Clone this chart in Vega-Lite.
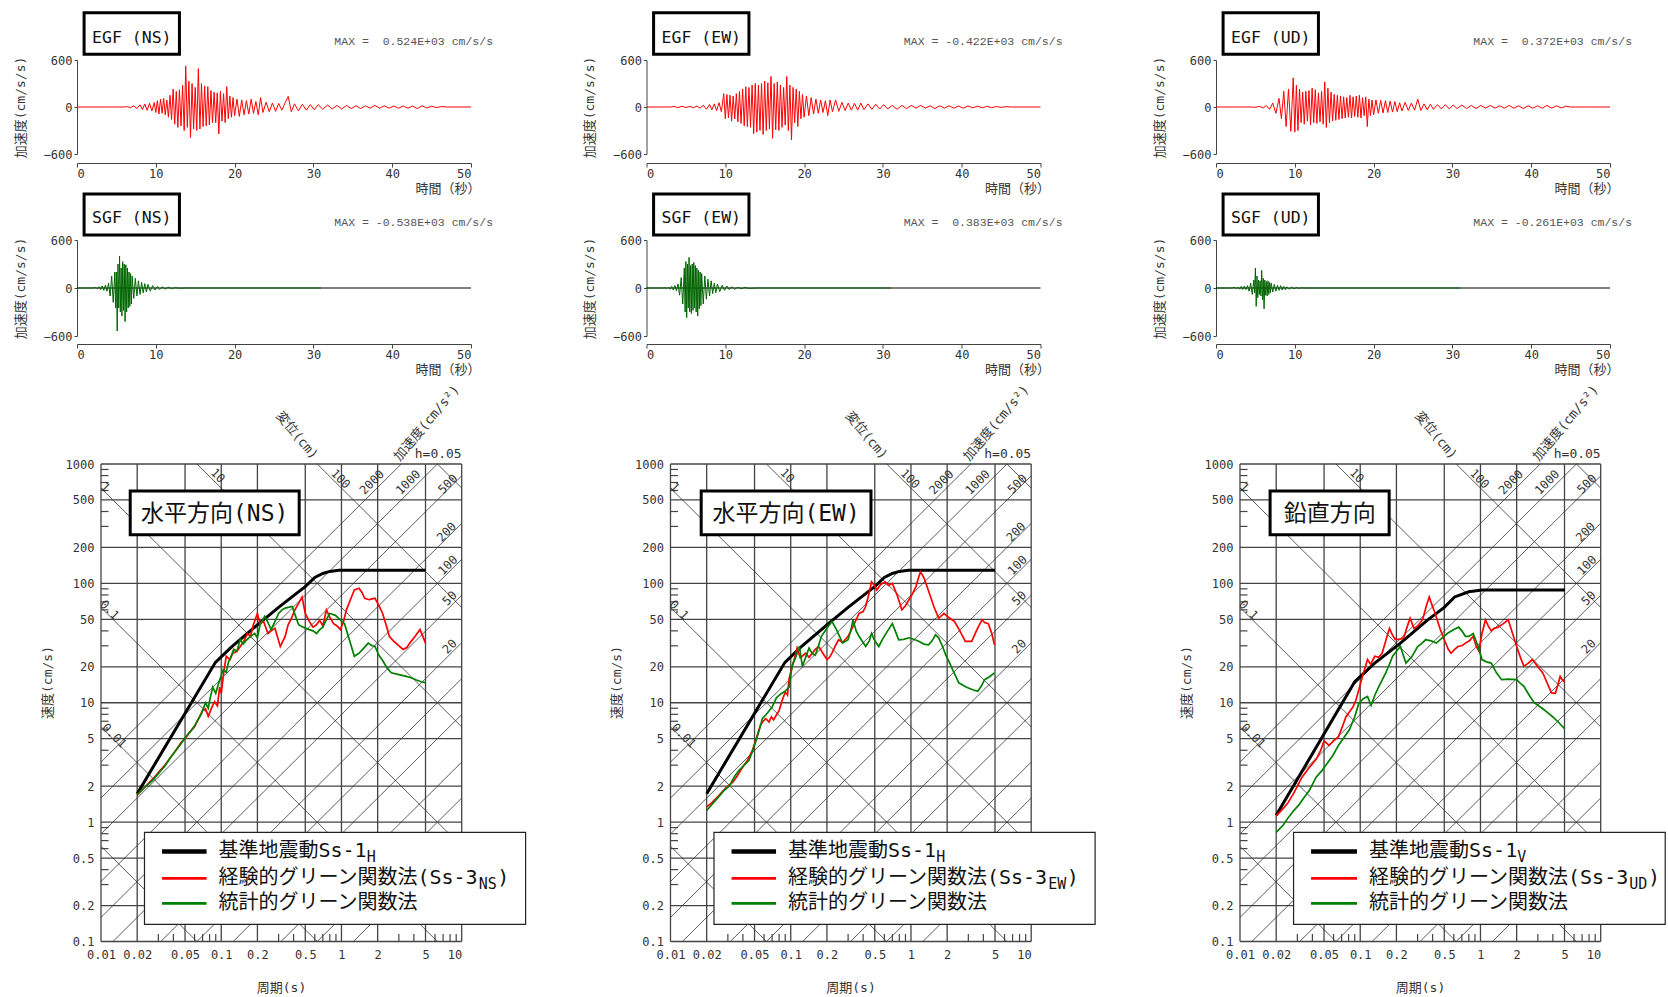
{
"$schema":"https://vega.github.io/schema/vega-lite/v6.json",
"background":"white",
"padding":{"left":14,"top":11,"right":0,"bottom":0},
"config":{
 "view":{"stroke":null},
 "axis":{"grid":false,"labelFont":"DejaVu Sans Mono","labelFontSize":12,"labelColor":"#333","labelOverlap":false,"titleFont":"DejaVu Sans Mono, Noto Sans CJK JP","titleFontSize":13,"titleFontWeight":"normal","titleColor":"#333","domainColor":"#444","tickColor":"#444"},
 "text":{"font":"DejaVu Sans Mono, Noto Sans CJK JP"}
},
"datasets":{
 "egf":[
{"t":0,"n":0,"e":0,"u":0},{"t":3,"n":0,"e":0,"u":0},{"t":3.5,"n":0,"e":6,"u":0},{"t":4,"n":0,"e":-7,"u":0},{"t":4.5,"n":0,"e":8,"u":0},{"t":5,"n":0,"e":-6,"u":-4},{"t":5.5,"n":0,"e":7,"u":8},{"t":6,"n":0,"e":-9,"u":-12},{"t":6.4,"n":4,"e":12,"u":18},{"t":6.8,"n":-8,"e":-15,"u":-30},{"t":7.2,"n":15,"e":22,"u":50},{"t":7.6,"n":-20,"e":-28,"u":-80},{"t":8,"n":28,"e":32,"u":110},{"t":8.3,"n":-32,"e":-36,"u":-150},{"t":8.6,"n":38,"e":40,"u":200},{"t":8.9,"n":-42,"e":-45,"u":-250},{"t":9.2,"n":48,"e":55,"u":230},{"t":9.5,"n":-52,"e":-60,"u":-310},{"t":9.8,"n":58,"e":170,"u":372},{"t":10,"n":-70,"e":-150,"u":-320},{"t":10.2,"n":80,"e":160,"u":280},{"t":10.4,"n":-90,"e":-140,"u":-300},{"t":10.6,"n":100,"e":150,"u":230},{"t":10.8,"n":-80,"e":-180,"u":-200},{"t":11,"n":110,"e":140,"u":190},{"t":11.2,"n":-100,"e":-150,"u":-220},{"t":11.4,"n":90,"e":170,"u":200},{"t":11.6,"n":-130,"e":-190,"u":-180},{"t":11.8,"n":150,"e":200,"u":210},{"t":12,"n":-160,"e":-210,"u":-230},{"t":12.2,"n":230,"e":230,"u":240},{"t":12.4,"n":-220,"e":-240,"u":-200},{"t":12.6,"n":200,"e":260,"u":220},{"t":12.8,"n":-260,"e":-250,"u":-210},{"t":13,"n":220,"e":250,"u":180},{"t":13.2,"n":-240,"e":-260,"u":-190},{"t":13.4,"n":280,"e":280,"u":200},{"t":13.6,"n":-300,"e":-340,"u":-220},{"t":13.8,"n":524,"e":300,"u":320},{"t":14,"n":-260,"e":-320,"u":-260},{"t":14.2,"n":330,"e":280,"u":240},{"t":14.4,"n":-390,"e":-300,"u":-200},{"t":14.6,"n":300,"e":300,"u":190},{"t":14.8,"n":-280,"e":-350,"u":-180},{"t":15,"n":250,"e":330,"u":160},{"t":15.2,"n":-300,"e":-300,"u":-170},{"t":15.4,"n":490,"e":310,"u":150},{"t":15.6,"n":-280,"e":-280,"u":-160},{"t":15.8,"n":300,"e":390,"u":140},{"t":16,"n":-250,"e":-400,"u":-150},{"t":16.2,"n":270,"e":300,"u":130},{"t":16.4,"n":-240,"e":-290,"u":-140},{"t":16.6,"n":260,"e":320,"u":120},{"t":16.8,"n":-230,"e":-300,"u":-130},{"t":17,"n":210,"e":280,"u":150},{"t":17.2,"n":-200,"e":-260,"u":-140},{"t":17.4,"n":190,"e":250,"u":130},{"t":17.6,"n":-200,"e":-230,"u":-120},{"t":17.8,"n":180,"e":390,"u":140},{"t":18,"n":-343,"e":-300,"u":-130},{"t":18.2,"n":200,"e":280,"u":150},{"t":18.4,"n":-180,"e":-422,"u":-140},{"t":18.6,"n":170,"e":250,"u":120},{"t":18.8,"n":-200,"e":-200,"u":-110},{"t":19,"n":260,"e":230,"u":130},{"t":19.2,"n":-150,"e":-250,"u":-250},{"t":19.4,"n":140,"e":200,"u":100},{"t":19.6,"n":-130,"e":-150,"u":-110},{"t":19.8,"n":120,"e":160,"u":90},{"t":20,"n":-110,"e":-130,"u":-100},{"t":20.3,"n":100,"e":140,"u":90},{"t":20.6,"n":-120,"e":-110,"u":-80},{"t":20.9,"n":90,"e":120,"u":85},{"t":21.2,"n":-100,"e":-90,"u":-75},{"t":21.5,"n":80,"e":100,"u":80},{"t":21.8,"n":-90,"e":-80,"u":-70},{"t":22.1,"n":100,"e":90,"u":75},{"t":22.4,"n":-80,"e":-70,"u":-65},{"t":22.7,"n":70,"e":80,"u":70},{"t":23,"n":-100,"e":-110,"u":-60},{"t":23.3,"n":120,"e":90,"u":55},{"t":23.6,"n":-70,"e":-60,"u":-50},{"t":24,"n":60,"e":90,"u":60},{"t":24.4,"n":-60,"e":-55,"u":-45},{"t":24.8,"n":50,"e":60,"u":50},{"t":25.2,"n":-55,"e":-45,"u":-40},{"t":25.6,"n":45,"e":50,"u":100},{"t":26,"n":-40,"e":-40,"u":-45},{"t":26.4,"n":50,"e":45,"u":40},{"t":26.8,"n":135,"e":-40,"u":-35},{"t":27.2,"n":-60,"e":50,"u":35},{"t":27.6,"n":40,"e":-35,"u":-30},{"t":28.1,"n":-50,"e":40,"u":30},{"t":28.6,"n":35,"e":-30,"u":-25},{"t":29.1,"n":-40,"e":35,"u":30},{"t":29.6,"n":30,"e":-25,"u":-25},{"t":30.1,"n":-35,"e":30,"u":25},{"t":30.6,"n":30,"e":-25,"u":-20},{"t":31.2,"n":-30,"e":20,"u":25},{"t":31.8,"n":25,"e":-30,"u":-20},{"t":32.4,"n":-25,"e":20,"u":20},{"t":33,"n":20,"e":-20,"u":-20},{"t":33.6,"n":-25,"e":20,"u":20},{"t":34.2,"n":20,"e":-15,"u":-15},{"t":34.8,"n":-20,"e":20,"u":20},{"t":35.4,"n":15,"e":-15,"u":-15},{"t":36,"n":-20,"e":15,"u":15},{"t":36.6,"n":15,"e":-20,"u":-15},{"t":37.2,"n":-15,"e":15,"u":20},{"t":37.8,"n":20,"e":-15,"u":-15},{"t":38.4,"n":-15,"e":15,"u":15},{"t":39,"n":15,"e":-15,"u":-20},{"t":39.6,"n":-15,"e":12,"u":15},{"t":40.2,"n":12,"e":-15,"u":-15},{"t":40.8,"n":-15,"e":12,"u":15},{"t":41.4,"n":12,"e":-10,"u":-15},{"t":42,"n":-15,"e":10,"u":20},{"t":42.6,"n":12,"e":-10,"u":-15},{"t":43.2,"n":-20,"e":8,"u":15},{"t":43.8,"n":15,"e":-8,"u":-12},{"t":44.4,"n":-12,"e":6,"u":10},{"t":45,"n":10,"e":-5,"u":0},{"t":45.6,"n":-8,"e":4,"u":0},{"t":46.3,"n":5,"e":0,"u":0},{"t":47,"n":0,"e":0,"u":0},{"t":50,"n":0,"e":0,"u":0}
 ],
 "sgf":[
{"t":0,"n":0,"e":0,"u":0},{"t":2,"n":0,"e":0,"u":0},{"t":2.4,"n":5,"e":3,"u":8},{"t":2.6,"n":-10,"e":-8,"u":-10},{"t":2.8,"n":15,"e":12,"u":12},{"t":3,"n":-20,"e":-15,"u":-15},{"t":3.2,"n":25,"e":20,"u":20},{"t":3.4,"n":-30,"e":-25,"u":-18},{"t":3.6,"n":35,"e":30,"u":25},{"t":3.8,"n":-40,"e":-35,"u":-20},{"t":4,"n":60,"e":50,"u":30},{"t":4.2,"n":-100,"e":-90,"u":-40},{"t":4.4,"n":150,"e":130,"u":60},{"t":4.6,"n":-180,"e":-200,"u":-80},{"t":4.8,"n":200,"e":250,"u":100},{"t":4.9,"n":-250,"e":-300,"u":-60},{"t":5,"n":200,"e":330,"u":250},{"t":5.1,"n":-538,"e":-370,"u":-230},{"t":5.2,"n":300,"e":300,"u":150},{"t":5.3,"n":-250,"e":-250,"u":-120},{"t":5.4,"n":400,"e":383,"u":100},{"t":5.5,"n":-300,"e":-300,"u":-80},{"t":5.6,"n":250,"e":280,"u":90},{"t":5.7,"n":-350,"e":-320,"u":-100},{"t":5.8,"n":330,"e":300,"u":220},{"t":5.9,"n":-280,"e":-280,"u":-150},{"t":6,"n":300,"e":320,"u":120},{"t":6.1,"n":-420,"e":-250,"u":-261},{"t":6.2,"n":290,"e":280,"u":100},{"t":6.3,"n":-300,"e":-300,"u":-90},{"t":6.4,"n":250,"e":250,"u":80},{"t":6.5,"n":-250,"e":-350,"u":-100},{"t":6.6,"n":200,"e":220,"u":90},{"t":6.7,"n":-230,"e":-260,"u":-80},{"t":6.8,"n":180,"e":200,"u":70},{"t":6.9,"n":-200,"e":-220,"u":-60},{"t":7,"n":150,"e":180,"u":60},{"t":7.2,"n":-130,"e":-200,"u":-50},{"t":7.4,"n":120,"e":150,"u":45},{"t":7.6,"n":-100,"e":-140,"u":-40},{"t":7.8,"n":90,"e":110,"u":35},{"t":8,"n":-80,"e":-100,"u":-30},{"t":8.2,"n":70,"e":90,"u":30},{"t":8.4,"n":-60,"e":-70,"u":-25},{"t":8.6,"n":55,"e":60,"u":20},{"t":8.8,"n":-50,"e":-60,"u":-20},{"t":9,"n":45,"e":50,"u":15},{"t":9.3,"n":-40,"e":-45,"u":-15},{"t":9.6,"n":30,"e":35,"u":12},{"t":9.9,"n":-25,"e":-30,"u":-10},{"t":10.2,"n":20,"e":25,"u":8},{"t":10.5,"n":-18,"e":-20,"u":-5},{"t":10.8,"n":15,"e":15,"u":3},{"t":11.2,"n":-12,"e":-15,"u":0},{"t":11.6,"n":10,"e":10,"u":0},{"t":12,"n":-8,"e":-8,"u":0},{"t":12.5,"n":5,"e":6,"u":0},{"t":13,"n":-3,"e":-5,"u":0},{"t":14,"n":0,"e":0,"u":0},{"t":31,"n":0,"e":0,"u":0}
 ],
 "vg":[{"T":0.01},{"T":0.02},{"T":0.05},{"T":0.1},{"T":0.2},{"T":0.5},{"T":1},{"T":2},{"T":5},{"T":10}],
 "hg":[{"V":0.1},{"V":0.2},{"V":0.5},{"V":1},{"V":2},{"V":5},{"V":10},{"V":20},{"V":50},{"V":100},{"V":200},{"V":500},{"V":1000}],
 "dg":[
{"t1":0.01,"v1":0.6283,"t2":0.06283,"v2":0.1},{"t1":0.01,"v1":6.283,"t2":0.6283,"v2":0.1},{"t1":0.01,"v1":62.83,"t2":6.283,"v2":0.1},{"t1":0.01,"v1":628.3,"t2":10,"v2":0.6283},{"t1":0.06283,"v1":1000,"t2":10,"v2":6.283},{"t1":0.6283,"v1":1000,"t2":10,"v2":62.83},{"t1":6.283,"v1":1000,"t2":10,"v2":628.3},
{"t1":1.2566,"v1":0.1,"t2":10,"v2":0.7958},{"t1":0.6283,"v1":0.1,"t2":10,"v2":1.5915},{"t1":0.31416,"v1":0.1,"t2":10,"v2":3.183},{"t1":0.12566,"v1":0.1,"t2":10,"v2":7.958},{"t1":0.06283,"v1":0.1,"t2":10,"v2":15.915},{"t1":0.031416,"v1":0.1,"t2":10,"v2":31.83},{"t1":0.012566,"v1":0.1,"t2":10,"v2":79.58},{"t1":0.01,"v1":0.15915,"t2":10,"v2":159.15},{"t1":0.01,"v1":0.3183,"t2":10,"v2":318.3},{"t1":0.01,"v1":0.7958,"t2":10,"v2":795.8},{"t1":0.01,"v1":1.5915,"t2":6.283,"v2":1000},{"t1":0.01,"v1":3.183,"t2":3.1416,"v2":1000}
 ],
 "lt":[{"V":0.3},{"V":0.4},{"V":0.6},{"V":0.7},{"V":0.8},{"V":0.9},{"V":3},{"V":4},{"V":6},{"V":7},{"V":8},{"V":9},{"V":30},{"V":40},{"V":60},{"V":70},{"V":80},{"V":90},{"V":300},{"V":400},{"V":600},{"V":700},{"V":800},{"V":900}],
 "bt":[{"T":0.03},{"T":0.04},{"T":0.06},{"T":0.07},{"T":0.08},{"T":0.09},{"T":0.3},{"T":0.4},{"T":0.6},{"T":0.7},{"T":0.8},{"T":0.9},{"T":3},{"T":4},{"T":6},{"T":7},{"T":8},{"T":9}],
 "dl":[{"T":0.0938,"V":800,"l":"10"},{"T":0.984,"V":750,"l":"100"},{"T":0.0109,"V":639,"l":"1"},{"T":0.0118,"V":60,"l":"0.1"},{"T":0.0129,"V":5.3,"l":"0.01"}],
 "al":[{"T":1.79,"V":703,"l":"2000"},{"T":3.58,"V":703,"l":"1000"},{"T":7.67,"V":681,"l":"500"},{"T":7.47,"V":270,"l":"200"},{"T":7.67,"V":142,"l":"100"},{"T":7.93,"V":75,"l":"50"},{"T":7.93,"V":29.6,"l":"20"}],
 "hS":[{"T":0.02,"V":1.73},{"T":0.0895,"V":21.8},{"T":0.12,"V":29},{"T":0.2,"V":45},{"T":0.3,"V":63},{"T":0.4,"V":79},{"T":0.5,"V":94},{"T":0.6,"V":112},{"T":0.7,"V":121},{"T":0.8,"V":126},{"T":0.95,"V":129},{"T":5,"V":129}],
 "nE":[{"T":0.02,"V":1.68},{"T":0.023,"V":1.95},{"T":0.027,"V":2.3},{"T":0.03,"V":2.6},{"T":0.034,"V":3.0},{"T":0.038,"V":3.5},{"T":0.042,"V":4.0},{"T":0.046,"V":4.6},{"T":0.05,"V":5.0},{"T":0.055,"V":5.7},{"T":0.06,"V":6.3},{"T":0.065,"V":7.4},{"T":0.07,"V":8.6},{"T":0.074,"V":8.9},{"T":0.078,"V":7.7},{"T":0.083,"V":9.0},{"T":0.088,"V":10.2},{"T":0.093,"V":9.4},{"T":0.097,"V":13.5},{"T":0.1,"V":12},{"T":0.105,"V":18},{"T":0.11,"V":24.5},{"T":0.118,"V":23},{"T":0.125,"V":26},{"T":0.135,"V":27},{"T":0.144,"V":29.6},{"T":0.155,"V":33},{"T":0.165,"V":38},{"T":0.175,"V":36},{"T":0.185,"V":45},{"T":0.2,"V":56},{"T":0.21,"V":46},{"T":0.225,"V":48},{"T":0.245,"V":38},{"T":0.26,"V":40},{"T":0.28,"V":42},{"T":0.295,"V":35},{"T":0.31,"V":29.6},{"T":0.34,"V":36},{"T":0.36,"V":45},{"T":0.38,"V":50},{"T":0.41,"V":60},{"T":0.44,"V":68},{"T":0.47,"V":77},{"T":0.5,"V":56},{"T":0.54,"V":48},{"T":0.58,"V":43},{"T":0.62,"V":45},{"T":0.66,"V":49},{"T":0.7,"V":44},{"T":0.75,"V":60},{"T":0.8,"V":52},{"T":0.86,"V":46},{"T":0.92,"V":44},{"T":0.98,"V":41},{"T":1.04,"V":48},{"T":1.1,"V":60},{"T":1.2,"V":75},{"T":1.28,"V":88},{"T":1.4,"V":91},{"T":1.48,"V":84},{"T":1.56,"V":75},{"T":1.7,"V":73},{"T":1.9,"V":75},{"T":2.05,"V":65},{"T":2.2,"V":56},{"T":2.35,"V":45},{"T":2.5,"V":36},{"T":2.7,"V":33},{"T":2.9,"V":31},{"T":3.25,"V":28},{"T":3.5,"V":29},{"T":3.7,"V":31.6},{"T":4.1,"V":36},{"T":4.5,"V":41},{"T":4.75,"V":36},{"T":5,"V":31.6}],
 "nG":[{"T":0.02,"V":1.7},{"T":0.023,"V":1.95},{"T":0.027,"V":2.25},{"T":0.03,"V":2.55},{"T":0.034,"V":2.95},{"T":0.038,"V":3.5},{"T":0.042,"V":4.0},{"T":0.046,"V":4.5},{"T":0.05,"V":5.1},{"T":0.055,"V":5.7},{"T":0.06,"V":6.4},{"T":0.064,"V":7.2},{"T":0.068,"V":8.0},{"T":0.074,"V":10},{"T":0.078,"V":9.0},{"T":0.081,"V":11},{"T":0.085,"V":13.5},{"T":0.09,"V":12},{"T":0.095,"V":14.5},{"T":0.104,"V":19},{"T":0.11,"V":18},{"T":0.115,"V":22},{"T":0.12,"V":24},{"T":0.127,"V":28},{"T":0.135,"V":27},{"T":0.144,"V":34},{"T":0.152,"V":31},{"T":0.16,"V":33},{"T":0.175,"V":36},{"T":0.19,"V":38},{"T":0.2,"V":35},{"T":0.21,"V":45},{"T":0.23,"V":53},{"T":0.245,"V":47},{"T":0.26,"V":41},{"T":0.28,"V":48},{"T":0.3,"V":56},{"T":0.32,"V":60},{"T":0.34,"V":62},{"T":0.39,"V":64},{"T":0.41,"V":55},{"T":0.44,"V":45},{"T":0.48,"V":43},{"T":0.54,"V":41},{"T":0.58,"V":40},{"T":0.62,"V":38},{"T":0.66,"V":41},{"T":0.7,"V":43},{"T":0.75,"V":50},{"T":0.8,"V":56},{"T":0.89,"V":54},{"T":0.97,"V":50},{"T":1.06,"V":46},{"T":1.15,"V":35},{"T":1.28,"V":24.5},{"T":1.4,"V":26},{"T":1.5,"V":28},{"T":1.67,"V":31.6},{"T":1.8,"V":30},{"T":1.9,"V":29.6},{"T":2.05,"V":25},{"T":2.2,"V":22.6},{"T":2.4,"V":19.5},{"T":2.6,"V":17.8},{"T":3.0,"V":17.2},{"T":3.4,"V":16.7},{"T":3.8,"V":16.2},{"T":4.2,"V":15.5},{"T":4.6,"V":15},{"T":5,"V":14.7}],
 "eE":[{"T":0.02,"V":1.34},{"T":0.022,"V":1.45},{"T":0.025,"V":1.65},{"T":0.029,"V":1.95},{"T":0.033,"V":2.16},{"T":0.036,"V":2.45},{"T":0.039,"V":2.8},{"T":0.0436,"V":3.29},{"T":0.048,"V":4.0},{"T":0.051,"V":4.8},{"T":0.056,"V":6.5},{"T":0.059,"V":7.0},{"T":0.062,"V":7.35},{"T":0.066,"V":6.9},{"T":0.069,"V":7.6},{"T":0.072,"V":7.2},{"T":0.076,"V":7.9},{"T":0.08,"V":8.6},{"T":0.085,"V":10.5},{"T":0.09,"V":12.3},{"T":0.094,"V":11.6},{"T":0.097,"V":16},{"T":0.103,"V":20.2},{"T":0.108,"V":24},{"T":0.113,"V":28.7},{"T":0.12,"V":23.8},{"T":0.127,"V":25},{"T":0.133,"V":26},{"T":0.142,"V":24},{"T":0.151,"V":26},{"T":0.16,"V":28},{"T":0.171,"V":29.6},{"T":0.185,"V":26},{"T":0.2,"V":23},{"T":0.21,"V":24},{"T":0.22,"V":26},{"T":0.235,"V":30},{"T":0.25,"V":33.7},{"T":0.27,"V":32},{"T":0.3,"V":36},{"T":0.32,"V":41},{"T":0.345,"V":48},{"T":0.37,"V":56},{"T":0.4,"V":58},{"T":0.42,"V":64},{"T":0.445,"V":80},{"T":0.47,"V":103},{"T":0.5,"V":95},{"T":0.52,"V":88},{"T":0.56,"V":98},{"T":0.61,"V":103},{"T":0.65,"V":96},{"T":0.7,"V":100},{"T":0.77,"V":79},{"T":0.84,"V":60},{"T":0.9,"V":65},{"T":0.96,"V":72.6},{"T":1.03,"V":82},{"T":1.1,"V":94},{"T":1.15,"V":110},{"T":1.2,"V":125},{"T":1.28,"V":112},{"T":1.36,"V":94},{"T":1.45,"V":78},{"T":1.55,"V":64},{"T":1.7,"V":51},{"T":1.88,"V":56},{"T":2.05,"V":52},{"T":2.3,"V":48},{"T":2.55,"V":40},{"T":2.83,"V":32.7},{"T":3.2,"V":32.7},{"T":3.5,"V":40},{"T":3.9,"V":49.6},{"T":4.1,"V":47},{"T":4.4,"V":46},{"T":4.7,"V":38},{"T":4.95,"V":30.6}],
 "eG":[{"T":0.02,"V":1.25},{"T":0.022,"V":1.4},{"T":0.025,"V":1.62},{"T":0.028,"V":1.85},{"T":0.031,"V":2.02},{"T":0.034,"V":2.4},{"T":0.037,"V":2.71},{"T":0.041,"V":3.0},{"T":0.045,"V":3.3},{"T":0.048,"V":3.9},{"T":0.051,"V":4.7},{"T":0.055,"V":6.0},{"T":0.058,"V":7.35},{"T":0.064,"V":8.2},{"T":0.07,"V":9.2},{"T":0.076,"V":11},{"T":0.083,"V":11.9},{"T":0.09,"V":12.5},{"T":0.097,"V":13.5},{"T":0.1,"V":17},{"T":0.103,"V":20.6},{"T":0.11,"V":24},{"T":0.118,"V":29.6},{"T":0.125,"V":20.2},{"T":0.133,"V":24},{"T":0.142,"V":28.7},{"T":0.15,"V":26},{"T":0.16,"V":25},{"T":0.17,"V":30},{"T":0.18,"V":36},{"T":0.2,"V":42},{"T":0.22,"V":48},{"T":0.24,"V":41},{"T":0.27,"V":31.6},{"T":0.3,"V":33.7},{"T":0.315,"V":40},{"T":0.33,"V":49.4},{"T":0.35,"V":40},{"T":0.37,"V":36},{"T":0.4,"V":32},{"T":0.42,"V":29.6},{"T":0.45,"V":33},{"T":0.47,"V":38},{"T":0.5,"V":33},{"T":0.54,"V":29.6},{"T":0.57,"V":33},{"T":0.61,"V":37},{"T":0.66,"V":42},{"T":0.7,"V":46},{"T":0.74,"V":40},{"T":0.79,"V":33.7},{"T":0.87,"V":34},{"T":0.96,"V":35},{"T":1.05,"V":34},{"T":1.16,"V":32.7},{"T":1.28,"V":31},{"T":1.4,"V":30.6},{"T":1.5,"V":33},{"T":1.6,"V":37},{"T":1.7,"V":35},{"T":1.83,"V":29.6},{"T":1.95,"V":25},{"T":2.1,"V":21.5},{"T":2.3,"V":17.5},{"T":2.5,"V":14.7},{"T":2.9,"V":13.5},{"T":3.3,"V":12.8},{"T":3.6,"V":12.5},{"T":3.85,"V":13.8},{"T":4.1,"V":15.6},{"T":4.5,"V":16.5},{"T":4.95,"V":17.8}],
 "uS":[{"T":0.02,"V":1.14},{"T":0.09,"V":15},{"T":0.132,"V":21.5},{"T":0.216,"V":31.6},{"T":0.36,"V":49},{"T":0.5,"V":63},{"T":0.61,"V":77},{"T":0.8,"V":85},{"T":1.03,"V":88},{"T":5.05,"V":88}],
 "uE":[{"T":0.02,"V":1.13},{"T":0.0225,"V":1.28},{"T":0.0248,"V":1.43},{"T":0.028,"V":1.75},{"T":0.0328,"V":2.38},{"T":0.037,"V":2.8},{"T":0.0433,"V":3.39},{"T":0.047,"V":4.0},{"T":0.05,"V":4.8},{"T":0.055,"V":4.4},{"T":0.06,"V":4.8},{"T":0.066,"V":5.2},{"T":0.071,"V":6.3},{"T":0.076,"V":7.6},{"T":0.082,"V":8.5},{"T":0.087,"V":9.2},{"T":0.092,"V":10.5},{"T":0.097,"V":12.7},{"T":0.105,"V":17},{"T":0.115,"V":23},{"T":0.122,"V":21},{"T":0.132,"V":24.5},{"T":0.142,"V":24},{"T":0.152,"V":26},{"T":0.163,"V":33},{"T":0.175,"V":42},{"T":0.185,"V":37},{"T":0.195,"V":34},{"T":0.21,"V":34},{"T":0.23,"V":34.8},{"T":0.245,"V":43},{"T":0.26,"V":51},{"T":0.28,"V":42},{"T":0.3,"V":44},{"T":0.33,"V":49.6},{"T":0.355,"V":65},{"T":0.375,"V":77},{"T":0.395,"V":66},{"T":0.42,"V":56},{"T":0.46,"V":42},{"T":0.5,"V":33.7},{"T":0.54,"V":28},{"T":0.57,"V":26},{"T":0.61,"V":28},{"T":0.65,"V":29.6},{"T":0.7,"V":30},{"T":0.75,"V":31.6},{"T":0.81,"V":33},{"T":0.87,"V":36},{"T":0.92,"V":30},{"T":0.97,"V":27.2},{"T":1.03,"V":38},{"T":1.1,"V":49.6},{"T":1.16,"V":44},{"T":1.23,"V":40},{"T":1.3,"V":42},{"T":1.4,"V":43},{"T":1.55,"V":46},{"T":1.7,"V":49.6},{"T":1.85,"V":38},{"T":2.0,"V":29.6},{"T":2.15,"V":24},{"T":2.3,"V":20.2},{"T":2.5,"V":21.5},{"T":2.7,"V":23},{"T":3.0,"V":20},{"T":3.3,"V":17.8},{"T":3.6,"V":14.5},{"T":3.9,"V":12.1},{"T":4.2,"V":12},{"T":4.4,"V":14},{"T":4.6,"V":16.6},{"T":4.8,"V":15.5},{"T":5,"V":15}],
 "uG":[{"T":0.02,"V":0.82},{"T":0.023,"V":0.95},{"T":0.025,"V":1.08},{"T":0.028,"V":1.25},{"T":0.031,"V":1.4},{"T":0.034,"V":1.6},{"T":0.0377,"V":1.84},{"T":0.043,"V":2.38},{"T":0.048,"V":2.7},{"T":0.053,"V":3.1},{"T":0.059,"V":3.6},{"T":0.066,"V":4.4},{"T":0.073,"V":5.1},{"T":0.081,"V":5.9},{"T":0.09,"V":7.6},{"T":0.097,"V":9.8},{"T":0.106,"V":10.8},{"T":0.115,"V":11.3},{"T":0.123,"V":9.5},{"T":0.132,"V":11.5},{"T":0.142,"V":13.5},{"T":0.152,"V":15.5},{"T":0.163,"V":17.8},{"T":0.175,"V":21},{"T":0.186,"V":24.5},{"T":0.2,"V":27},{"T":0.216,"V":29.6},{"T":0.228,"V":25},{"T":0.24,"V":21.5},{"T":0.255,"V":23},{"T":0.27,"V":24.5},{"T":0.3,"V":29.6},{"T":0.32,"V":31},{"T":0.35,"V":33.7},{"T":0.39,"V":33},{"T":0.43,"V":31.6},{"T":0.48,"V":35},{"T":0.53,"V":38},{"T":0.6,"V":41},{"T":0.66,"V":43},{"T":0.7,"V":40},{"T":0.75,"V":36},{"T":0.8,"V":36},{"T":0.87,"V":38},{"T":0.95,"V":30},{"T":1.03,"V":23},{"T":1.12,"V":22},{"T":1.23,"V":21.5},{"T":1.35,"V":18},{"T":1.5,"V":15.6},{"T":1.7,"V":15.8},{"T":2.0,"V":15.6},{"T":2.15,"V":14.5},{"T":2.3,"V":13.7},{"T":2.55,"V":11.5},{"T":2.8,"V":10},{"T":3.3,"V":8.9},{"T":3.6,"V":8.3},{"T":4.0,"V":7.6},{"T":4.5,"V":6.8},{"T":5,"V":6.05}]
},
"columns":3,
"spacing":{"row":0,"column":175.5},
"align":"each",
"bounds":"flush",
"concat":[
  {"width":394,"height":94,"layer":[
   {"data":{"name":"egf"},"mark":{"type":"line","color":"#ff0000","strokeWidth":1},"encoding":{"x":{"field":"t","type":"quantitative","scale":{"domain":[0,50],"nice":false},"axis":{"values":[0,5,10,15,20,25,30,35,40,45,50],"labelExpr":"datum.value % 10 == 0 ? datum.label : ''","offset":9,"domain":true,"ticks":true,"tickSize":4,"labelPadding":1,"title":"時間（秒）","titleX":403,"titleAlign":"right","titlePadding":3}},"y":{"field":"n","type":"quantitative","scale":{"domain":[-600,600],"nice":false},"axis":{"values":[-600,0,600],"domain":true,"ticks":true,"tickSize":3,"labelPadding":2,"title":"加速度(cm/s/s)","titlePadding":16}}}},
   {"data":{"values":[{}]},"mark":{"type":"rect","fill":"white","stroke":"black","strokeWidth":3},"encoding":{"x":{"datum":0.9,"type":"quantitative","scale":{"domain":[0,50],"nice":false}},"x2":{"datum":13},"y":{"datum":675,"type":"quantitative","scale":{"domain":[-600,600],"nice":false}},"y2":{"datum":1204}}},
   {"data":{"values":[{"l":"EGF (NS)"}]},"mark":{"type":"text","font":"DejaVu Sans Mono","fontSize":16.5,"color":"#111","baseline":"middle"},"encoding":{"x":{"datum":6.95,"type":"quantitative","scale":{"domain":[0,50],"nice":false}},"y":{"datum":887,"type":"quantitative","scale":{"domain":[-600,600],"nice":false}},"text":{"field":"l"}}},
   {"data":{"values":[{"l":"MAX = \u00a00.524E+03 cm/s/s"}]},"mark":{"type":"text","font":"Liberation Mono","fontSize":11.5,"color":"#555","align":"right","baseline":"middle"},"encoding":{"x":{"datum":52.8,"type":"quantitative","scale":{"domain":[0,50],"nice":false}},"y":{"datum":826,"type":"quantitative","scale":{"domain":[-600,600],"nice":false}},"text":{"field":"l"}}}
  ]},
  {"width":394,"height":94,"layer":[
   {"data":{"name":"egf"},"mark":{"type":"line","color":"#ff0000","strokeWidth":1},"encoding":{"x":{"field":"t","type":"quantitative","scale":{"domain":[0,50],"nice":false},"axis":{"values":[0,5,10,15,20,25,30,35,40,45,50],"labelExpr":"datum.value % 10 == 0 ? datum.label : ''","offset":9,"domain":true,"ticks":true,"tickSize":4,"labelPadding":1,"title":"時間（秒）","titleX":403,"titleAlign":"right","titlePadding":3}},"y":{"field":"e","type":"quantitative","scale":{"domain":[-600,600],"nice":false},"axis":{"values":[-600,0,600],"domain":true,"ticks":true,"tickSize":3,"labelPadding":2,"title":"加速度(cm/s/s)","titlePadding":16}}}},
   {"data":{"values":[{}]},"mark":{"type":"rect","fill":"white","stroke":"black","strokeWidth":3},"encoding":{"x":{"datum":0.9,"type":"quantitative","scale":{"domain":[0,50],"nice":false}},"x2":{"datum":13},"y":{"datum":675,"type":"quantitative","scale":{"domain":[-600,600],"nice":false}},"y2":{"datum":1204}}},
   {"data":{"values":[{"l":"EGF (EW)"}]},"mark":{"type":"text","font":"DejaVu Sans Mono","fontSize":16.5,"color":"#111","baseline":"middle"},"encoding":{"x":{"datum":6.95,"type":"quantitative","scale":{"domain":[0,50],"nice":false}},"y":{"datum":887,"type":"quantitative","scale":{"domain":[-600,600],"nice":false}},"text":{"field":"l"}}},
   {"data":{"values":[{"l":"MAX = -0.422E+03 cm/s/s"}]},"mark":{"type":"text","font":"Liberation Mono","fontSize":11.5,"color":"#555","align":"right","baseline":"middle"},"encoding":{"x":{"datum":52.8,"type":"quantitative","scale":{"domain":[0,50],"nice":false}},"y":{"datum":826,"type":"quantitative","scale":{"domain":[-600,600],"nice":false}},"text":{"field":"l"}}}
  ]},
  {"width":394,"height":94,"layer":[
   {"data":{"name":"egf"},"mark":{"type":"line","color":"#ff0000","strokeWidth":1},"encoding":{"x":{"field":"t","type":"quantitative","scale":{"domain":[0,50],"nice":false},"axis":{"values":[0,5,10,15,20,25,30,35,40,45,50],"labelExpr":"datum.value % 10 == 0 ? datum.label : ''","offset":9,"domain":true,"ticks":true,"tickSize":4,"labelPadding":1,"title":"時間（秒）","titleX":403,"titleAlign":"right","titlePadding":3}},"y":{"field":"u","type":"quantitative","scale":{"domain":[-600,600],"nice":false},"axis":{"values":[-600,0,600],"domain":true,"ticks":true,"tickSize":3,"labelPadding":2,"title":"加速度(cm/s/s)","titlePadding":16}}}},
   {"data":{"values":[{}]},"mark":{"type":"rect","fill":"white","stroke":"black","strokeWidth":3},"encoding":{"x":{"datum":0.9,"type":"quantitative","scale":{"domain":[0,50],"nice":false}},"x2":{"datum":13},"y":{"datum":675,"type":"quantitative","scale":{"domain":[-600,600],"nice":false}},"y2":{"datum":1204}}},
   {"data":{"values":[{"l":"EGF (UD)"}]},"mark":{"type":"text","font":"DejaVu Sans Mono","fontSize":16.5,"color":"#111","baseline":"middle"},"encoding":{"x":{"datum":6.95,"type":"quantitative","scale":{"domain":[0,50],"nice":false}},"y":{"datum":887,"type":"quantitative","scale":{"domain":[-600,600],"nice":false}},"text":{"field":"l"}}},
   {"data":{"values":[{"l":"MAX = \u00a00.372E+03 cm/s/s"}]},"mark":{"type":"text","font":"Liberation Mono","fontSize":11.5,"color":"#555","align":"right","baseline":"middle"},"encoding":{"x":{"datum":52.8,"type":"quantitative","scale":{"domain":[0,50],"nice":false}},"y":{"datum":826,"type":"quantitative","scale":{"domain":[-600,600],"nice":false}},"text":{"field":"l"}}}
  ]},
  {"width":1,"height":86,"data":{"values":[]},"mark":"point"},
  {"width":1,"height":86,"data":{"values":[]},"mark":"point"},
  {"width":1,"height":86,"data":{"values":[]},"mark":"point"},
  {"width":394,"height":96,"layer":[
   {"data":{"values":[{}]},"mark":{"type":"rule","color":"#000","strokeWidth":1},"encoding":{"x":{"datum":0,"type":"quantitative","scale":{"domain":[0,50],"nice":false}},"x2":{"datum":50},"y":{"datum":0,"type":"quantitative","scale":{"domain":[-600,600],"nice":false}}}},
   {"data":{"name":"sgf"},"mark":{"type":"line","color":"#006400","strokeWidth":1},"encoding":{"x":{"field":"t","type":"quantitative","scale":{"domain":[0,50],"nice":false},"axis":{"values":[0,5,10,15,20,25,30,35,40,45,50],"labelExpr":"datum.value % 10 == 0 ? datum.label : ''","offset":8,"domain":true,"ticks":true,"tickSize":4,"labelPadding":1,"title":"時間（秒）","titleX":403,"titleAlign":"right","titlePadding":3}},"y":{"field":"n","type":"quantitative","scale":{"domain":[-600,600],"nice":false},"axis":{"values":[-600,0,600],"domain":true,"ticks":true,"tickSize":3,"labelPadding":2,"title":"加速度(cm/s/s)","titlePadding":16}}}},
   {"data":{"values":[{}]},"mark":{"type":"rect","fill":"white","stroke":"black","strokeWidth":3},"encoding":{"x":{"datum":0.9,"type":"quantitative","scale":{"domain":[0,50],"nice":false}},"x2":{"datum":13},"y":{"datum":662,"type":"quantitative","scale":{"domain":[-600,600],"nice":false}},"y2":{"datum":1175}}},
   {"data":{"values":[{"l":"SGF (NS)"}]},"mark":{"type":"text","font":"DejaVu Sans Mono","fontSize":16.5,"color":"#111","baseline":"middle"},"encoding":{"x":{"datum":6.95,"type":"quantitative","scale":{"domain":[0,50],"nice":false}},"y":{"datum":869,"type":"quantitative","scale":{"domain":[-600,600],"nice":false}},"text":{"field":"l"}}},
   {"data":{"values":[{"l":"MAX = -0.538E+03 cm/s/s"}]},"mark":{"type":"text","font":"Liberation Mono","fontSize":11.5,"color":"#555","align":"right","baseline":"middle"},"encoding":{"x":{"datum":52.8,"type":"quantitative","scale":{"domain":[0,50],"nice":false}},"y":{"datum":809,"type":"quantitative","scale":{"domain":[-600,600],"nice":false}},"text":{"field":"l"}}}
  ]},
  {"width":394,"height":96,"layer":[
   {"data":{"values":[{}]},"mark":{"type":"rule","color":"#000","strokeWidth":1},"encoding":{"x":{"datum":0,"type":"quantitative","scale":{"domain":[0,50],"nice":false}},"x2":{"datum":50},"y":{"datum":0,"type":"quantitative","scale":{"domain":[-600,600],"nice":false}}}},
   {"data":{"name":"sgf"},"mark":{"type":"line","color":"#006400","strokeWidth":1},"encoding":{"x":{"field":"t","type":"quantitative","scale":{"domain":[0,50],"nice":false},"axis":{"values":[0,5,10,15,20,25,30,35,40,45,50],"labelExpr":"datum.value % 10 == 0 ? datum.label : ''","offset":8,"domain":true,"ticks":true,"tickSize":4,"labelPadding":1,"title":"時間（秒）","titleX":403,"titleAlign":"right","titlePadding":3}},"y":{"field":"e","type":"quantitative","scale":{"domain":[-600,600],"nice":false},"axis":{"values":[-600,0,600],"domain":true,"ticks":true,"tickSize":3,"labelPadding":2,"title":"加速度(cm/s/s)","titlePadding":16}}}},
   {"data":{"values":[{}]},"mark":{"type":"rect","fill":"white","stroke":"black","strokeWidth":3},"encoding":{"x":{"datum":0.9,"type":"quantitative","scale":{"domain":[0,50],"nice":false}},"x2":{"datum":13},"y":{"datum":662,"type":"quantitative","scale":{"domain":[-600,600],"nice":false}},"y2":{"datum":1175}}},
   {"data":{"values":[{"l":"SGF (EW)"}]},"mark":{"type":"text","font":"DejaVu Sans Mono","fontSize":16.5,"color":"#111","baseline":"middle"},"encoding":{"x":{"datum":6.95,"type":"quantitative","scale":{"domain":[0,50],"nice":false}},"y":{"datum":869,"type":"quantitative","scale":{"domain":[-600,600],"nice":false}},"text":{"field":"l"}}},
   {"data":{"values":[{"l":"MAX = \u00a00.383E+03 cm/s/s"}]},"mark":{"type":"text","font":"Liberation Mono","fontSize":11.5,"color":"#555","align":"right","baseline":"middle"},"encoding":{"x":{"datum":52.8,"type":"quantitative","scale":{"domain":[0,50],"nice":false}},"y":{"datum":809,"type":"quantitative","scale":{"domain":[-600,600],"nice":false}},"text":{"field":"l"}}}
  ]},
  {"width":394,"height":96,"layer":[
   {"data":{"values":[{}]},"mark":{"type":"rule","color":"#000","strokeWidth":1},"encoding":{"x":{"datum":0,"type":"quantitative","scale":{"domain":[0,50],"nice":false}},"x2":{"datum":50},"y":{"datum":0,"type":"quantitative","scale":{"domain":[-600,600],"nice":false}}}},
   {"data":{"name":"sgf"},"mark":{"type":"line","color":"#006400","strokeWidth":1},"encoding":{"x":{"field":"t","type":"quantitative","scale":{"domain":[0,50],"nice":false},"axis":{"values":[0,5,10,15,20,25,30,35,40,45,50],"labelExpr":"datum.value % 10 == 0 ? datum.label : ''","offset":8,"domain":true,"ticks":true,"tickSize":4,"labelPadding":1,"title":"時間（秒）","titleX":403,"titleAlign":"right","titlePadding":3}},"y":{"field":"u","type":"quantitative","scale":{"domain":[-600,600],"nice":false},"axis":{"values":[-600,0,600],"domain":true,"ticks":true,"tickSize":3,"labelPadding":2,"title":"加速度(cm/s/s)","titlePadding":16}}}},
   {"data":{"values":[{}]},"mark":{"type":"rect","fill":"white","stroke":"black","strokeWidth":3},"encoding":{"x":{"datum":0.9,"type":"quantitative","scale":{"domain":[0,50],"nice":false}},"x2":{"datum":13},"y":{"datum":662,"type":"quantitative","scale":{"domain":[-600,600],"nice":false}},"y2":{"datum":1175}}},
   {"data":{"values":[{"l":"SGF (UD)"}]},"mark":{"type":"text","font":"DejaVu Sans Mono","fontSize":16.5,"color":"#111","baseline":"middle"},"encoding":{"x":{"datum":6.95,"type":"quantitative","scale":{"domain":[0,50],"nice":false}},"y":{"datum":869,"type":"quantitative","scale":{"domain":[-600,600],"nice":false}},"text":{"field":"l"}}},
   {"data":{"values":[{"l":"MAX = -0.261E+03 cm/s/s"}]},"mark":{"type":"text","font":"Liberation Mono","fontSize":11.5,"color":"#555","align":"right","baseline":"middle"},"encoding":{"x":{"datum":52.8,"type":"quantitative","scale":{"domain":[0,50],"nice":false}},"y":{"datum":809,"type":"quantitative","scale":{"domain":[-600,600],"nice":false}},"text":{"field":"l"}}}
  ]},
  {"width":1,"height":127.5,"data":{"values":[]},"mark":"point"},
  {"width":1,"height":127.5,"data":{"values":[]},"mark":"point"},
  {"width":1,"height":127.5,"data":{"values":[]},"mark":"point"},
  {"width":384.7,"height":477.5,"layer":[
   {"data":{"name":"vg"},"mark":{"type":"rule","color":"#444","strokeWidth":1.3},"encoding":{"x":{"field":"T","type":"quantitative","scale":{"type":"log","domain":[0.006316,10],"nice":false},"axis":{"values":[0.01,0.02,0.05,0.1,0.2,0.5,1,2,5,10],"format":"~g","domain":false,"ticks":false,"labelPadding":8,"title":"周期(s)","titlePadding":21,"titleX":204}},"y":{"datum":0.1,"type":"quantitative","scale":{"type":"log","domain":[0.1,1000],"nice":false}},"y2":{"datum":1000}}},
   {"data":{"name":"hg"},"mark":{"type":"rule","color":"#444","strokeWidth":1.3},"encoding":{"x":{"datum":0.01,"type":"quantitative","scale":{"type":"log","domain":[0.006316,10],"nice":false}},"x2":{"datum":10},"y":{"field":"V","type":"quantitative","scale":{"type":"log","domain":[0.1,1000],"nice":false},"axis":{"values":[0.1,0.2,0.5,1,2,5,10,20,50,100,200,500,1000],"format":"~g","domain":false,"ticks":false,"offset":-24,"labelPadding":7,"title":"速度(cm/s)","titlePadding":11,"titleY":218}}}},
   {"data":{"name":"dg"},"mark":{"type":"rule","color":"#333","strokeWidth":0.8},"encoding":{"x":{"field":"t1","type":"quantitative","scale":{"type":"log","domain":[0.006316,10],"nice":false}},"x2":{"field":"t2"},"y":{"field":"v1","type":"quantitative","scale":{"type":"log","domain":[0.1,1000],"nice":false}},"y2":{"field":"v2"}}},
   {"data":{"name":"lt"},"mark":{"type":"rule","color":"#444","strokeWidth":1.2},"encoding":{"x":{"datum":0.01,"type":"quantitative","scale":{"type":"log","domain":[0.006316,10],"nice":false}},"x2":{"datum":0.01155},"y":{"field":"V","type":"quantitative","scale":{"type":"log","domain":[0.1,1000],"nice":false}}}},
   {"data":{"name":"bt"},"mark":{"type":"rule","color":"#444","strokeWidth":1.2},"encoding":{"x":{"field":"T","type":"quantitative","scale":{"type":"log","domain":[0.006316,10],"nice":false}},"y":{"datum":0.1,"type":"quantitative","scale":{"type":"log","domain":[0.1,1000],"nice":false}},"y2":{"datum":0.1156}}},
   {"data":{"name":"hS"},"mark":{"type":"line","color":"#000","strokeWidth":3},"encoding":{"x":{"field":"T","type":"quantitative","scale":{"type":"log","domain":[0.006316,10],"nice":false}},"y":{"field":"V","type":"quantitative","scale":{"type":"log","domain":[0.1,1000],"nice":false}}}},
   {"data":{"name":"nE"},"mark":{"type":"line","color":"#ff0000","strokeWidth":1.7},"encoding":{"x":{"field":"T","type":"quantitative","scale":{"type":"log","domain":[0.006316,10],"nice":false}},"y":{"field":"V","type":"quantitative","scale":{"type":"log","domain":[0.1,1000],"nice":false}}}},
   {"data":{"name":"nG"},"mark":{"type":"line","color":"#008000","strokeWidth":1.7},"encoding":{"x":{"field":"T","type":"quantitative","scale":{"type":"log","domain":[0.006316,10],"nice":false}},"y":{"field":"V","type":"quantitative","scale":{"type":"log","domain":[0.1,1000],"nice":false}}}},
   {"data":{"values":[{}]},"mark":{"type":"rect","fill":"white","stroke":"#000","strokeWidth":3},"encoding":{"x":{"datum":0.0175,"type":"quantitative","scale":{"type":"log","domain":[0.006316,10],"nice":false}},"x2":{"datum":0.445},"y":{"datum":255,"type":"quantitative","scale":{"type":"log","domain":[0.1,1000],"nice":false}},"y2":{"datum":595}}},
   {"data":{"values":[{"l":"水平方向(NS)"}]},"mark":{"type":"text","fontSize":23,"color":"#111","baseline":"middle"},"encoding":{"x":{"datum":0.0882,"type":"quantitative","scale":{"type":"log","domain":[0.006316,10],"nice":false}},"y":{"datum":378,"type":"quantitative","scale":{"type":"log","domain":[0.1,1000],"nice":false}},"text":{"field":"l"}}},
   {"data":{"name":"dl"},"mark":{"type":"text","angle":45,"font":"DejaVu Sans Mono","fontSize":12,"color":"#333","baseline":"middle"},"encoding":{"x":{"field":"T","type":"quantitative","scale":{"type":"log","domain":[0.006316,10],"nice":false}},"y":{"field":"V","type":"quantitative","scale":{"type":"log","domain":[0.1,1000],"nice":false}},"text":{"field":"l"}}},
   {"data":{"name":"al"},"mark":{"type":"text","angle":315,"font":"DejaVu Sans Mono","fontSize":12,"color":"#333","baseline":"middle"},"encoding":{"x":{"field":"T","type":"quantitative","scale":{"type":"log","domain":[0.006316,10],"nice":false}},"y":{"field":"V","type":"quantitative","scale":{"type":"log","domain":[0.1,1000],"nice":false}},"text":{"field":"l"}}},
   {"data":{"values":[{"T":0.427,"V":1734,"l":"変位(cm)"}]},"mark":{"type":"text","angle":50,"fontSize":13,"color":"#333","baseline":"middle"},"encoding":{"x":{"field":"T","type":"quantitative","scale":{"type":"log","domain":[0.006316,10],"nice":false}},"y":{"field":"V","type":"quantitative","scale":{"type":"log","domain":[0.1,1000],"nice":false}},"text":{"field":"l"}}},
   {"data":{"values":[{"T":5.12,"V":2198,"l":"加速度(cm/s²)"}]},"mark":{"type":"text","angle":310,"fontSize":13,"color":"#333","baseline":"middle"},"encoding":{"x":{"field":"T","type":"quantitative","scale":{"type":"log","domain":[0.006316,10],"nice":false}},"y":{"field":"V","type":"quantitative","scale":{"type":"log","domain":[0.1,1000],"nice":false}},"text":{"field":"l"}}},
   {"data":{"values":[{"T":10,"V":1224,"l":"h=0.05"}]},"mark":{"type":"text","align":"right","font":"DejaVu Sans Mono","fontSize":13,"color":"#333","baseline":"middle"},"encoding":{"x":{"field":"T","type":"quantitative","scale":{"type":"log","domain":[0.006316,10],"nice":false}},"y":{"field":"V","type":"quantitative","scale":{"type":"log","domain":[0.1,1000],"nice":false}},"text":{"field":"l"}}},
   {"data":{"values":[{}]},"mark":{"type":"rect","fill":"white","stroke":"#222","strokeWidth":1.2},"encoding":{"x":{"datum":0.023,"type":"quantitative","scale":{"type":"log","domain":[0.006316,10],"nice":false}},"x2":{"datum":34},"y":{"datum":0.139,"type":"quantitative","scale":{"type":"log","domain":[0.1,1000],"nice":false}},"y2":{"datum":0.82}}},
   {"data":{"values":[{"V":0.568}]},"mark":{"type":"rule","color":"#000","strokeWidth":4.5},"encoding":{"x":{"datum":0.0322,"type":"quantitative","scale":{"type":"log","domain":[0.006316,10],"nice":false}},"x2":{"datum":0.0755},"y":{"field":"V","type":"quantitative","scale":{"type":"log","domain":[0.1,1000],"nice":false}}}},
   {"data":{"values":[{"s":"EGF","V":0.3376},{"s":"SGF","V":0.2085}]},"mark":{"type":"rule","strokeWidth":2.6},"encoding":{"x":{"datum":0.0322,"type":"quantitative","scale":{"type":"log","domain":[0.006316,10],"nice":false}},"x2":{"datum":0.0755},"y":{"field":"V","type":"quantitative","scale":{"type":"log","domain":[0.1,1000],"nice":false}},"color":{"field":"s","type":"nominal","scale":{"domain":["EGF","SGF"],"range":["#ff0000","#008000"]},"legend":null}}},
   {"data":{"values":[{"l":"基準地震動Ss-1","T":0.0948,"V":0.568},{"l":"経験的グリーン関数法(Ss-3","T":0.0948,"V":0.3376},{"l":")","T":19.77,"V":0.3376},{"l":"統計的グリーン関数法","T":0.0948,"V":0.2085}]},"mark":{"type":"text","fontSize":20,"color":"#111","baseline":"middle","align":"left"},"encoding":{"x":{"field":"T","type":"quantitative","scale":{"type":"log","domain":[0.006316,10],"nice":false}},"y":{"field":"V","type":"quantitative","scale":{"type":"log","domain":[0.1,1000],"nice":false}},"text":{"field":"l"}}},
   {"data":{"values":[{"l":"H","T":1.621,"V":0.506},{"l":"NS","T":13.85,"V":0.3007}]},"mark":{"type":"text","font":"DejaVu Sans Mono","fontSize":15,"color":"#111","baseline":"middle","align":"left"},"encoding":{"x":{"field":"T","type":"quantitative","scale":{"type":"log","domain":[0.006316,10],"nice":false}},"y":{"field":"V","type":"quantitative","scale":{"type":"log","domain":[0.1,1000],"nice":false}},"text":{"field":"l"}}}
  ]},
  {"width":384.7,"height":477.5,"layer":[
   {"data":{"name":"vg"},"mark":{"type":"rule","color":"#444","strokeWidth":1.3},"encoding":{"x":{"field":"T","type":"quantitative","scale":{"type":"log","domain":[0.006316,10],"nice":false},"axis":{"values":[0.01,0.02,0.05,0.1,0.2,0.5,1,2,5,10],"format":"~g","domain":false,"ticks":false,"labelPadding":8,"title":"周期(s)","titlePadding":21,"titleX":204}},"y":{"datum":0.1,"type":"quantitative","scale":{"type":"log","domain":[0.1,1000],"nice":false}},"y2":{"datum":1000}}},
   {"data":{"name":"hg"},"mark":{"type":"rule","color":"#444","strokeWidth":1.3},"encoding":{"x":{"datum":0.01,"type":"quantitative","scale":{"type":"log","domain":[0.006316,10],"nice":false}},"x2":{"datum":10},"y":{"field":"V","type":"quantitative","scale":{"type":"log","domain":[0.1,1000],"nice":false},"axis":{"values":[0.1,0.2,0.5,1,2,5,10,20,50,100,200,500,1000],"format":"~g","domain":false,"ticks":false,"offset":-24,"labelPadding":7,"title":"速度(cm/s)","titlePadding":11,"titleY":218}}}},
   {"data":{"name":"dg"},"mark":{"type":"rule","color":"#333","strokeWidth":0.8},"encoding":{"x":{"field":"t1","type":"quantitative","scale":{"type":"log","domain":[0.006316,10],"nice":false}},"x2":{"field":"t2"},"y":{"field":"v1","type":"quantitative","scale":{"type":"log","domain":[0.1,1000],"nice":false}},"y2":{"field":"v2"}}},
   {"data":{"name":"lt"},"mark":{"type":"rule","color":"#444","strokeWidth":1.2},"encoding":{"x":{"datum":0.01,"type":"quantitative","scale":{"type":"log","domain":[0.006316,10],"nice":false}},"x2":{"datum":0.01155},"y":{"field":"V","type":"quantitative","scale":{"type":"log","domain":[0.1,1000],"nice":false}}}},
   {"data":{"name":"bt"},"mark":{"type":"rule","color":"#444","strokeWidth":1.2},"encoding":{"x":{"field":"T","type":"quantitative","scale":{"type":"log","domain":[0.006316,10],"nice":false}},"y":{"datum":0.1,"type":"quantitative","scale":{"type":"log","domain":[0.1,1000],"nice":false}},"y2":{"datum":0.1156}}},
   {"data":{"name":"hS"},"mark":{"type":"line","color":"#000","strokeWidth":3},"encoding":{"x":{"field":"T","type":"quantitative","scale":{"type":"log","domain":[0.006316,10],"nice":false}},"y":{"field":"V","type":"quantitative","scale":{"type":"log","domain":[0.1,1000],"nice":false}}}},
   {"data":{"name":"eE"},"mark":{"type":"line","color":"#ff0000","strokeWidth":1.7},"encoding":{"x":{"field":"T","type":"quantitative","scale":{"type":"log","domain":[0.006316,10],"nice":false}},"y":{"field":"V","type":"quantitative","scale":{"type":"log","domain":[0.1,1000],"nice":false}}}},
   {"data":{"name":"eG"},"mark":{"type":"line","color":"#008000","strokeWidth":1.7},"encoding":{"x":{"field":"T","type":"quantitative","scale":{"type":"log","domain":[0.006316,10],"nice":false}},"y":{"field":"V","type":"quantitative","scale":{"type":"log","domain":[0.1,1000],"nice":false}}}},
   {"data":{"values":[{}]},"mark":{"type":"rect","fill":"white","stroke":"#000","strokeWidth":3},"encoding":{"x":{"datum":0.018,"type":"quantitative","scale":{"type":"log","domain":[0.006316,10],"nice":false}},"x2":{"datum":0.465},"y":{"datum":255,"type":"quantitative","scale":{"type":"log","domain":[0.1,1000],"nice":false}},"y2":{"datum":595}}},
   {"data":{"values":[{"l":"水平方向(EW)"}]},"mark":{"type":"text","fontSize":23,"color":"#111","baseline":"middle"},"encoding":{"x":{"datum":0.0915,"type":"quantitative","scale":{"type":"log","domain":[0.006316,10],"nice":false}},"y":{"datum":378,"type":"quantitative","scale":{"type":"log","domain":[0.1,1000],"nice":false}},"text":{"field":"l"}}},
   {"data":{"name":"dl"},"mark":{"type":"text","angle":45,"font":"DejaVu Sans Mono","fontSize":12,"color":"#333","baseline":"middle"},"encoding":{"x":{"field":"T","type":"quantitative","scale":{"type":"log","domain":[0.006316,10],"nice":false}},"y":{"field":"V","type":"quantitative","scale":{"type":"log","domain":[0.1,1000],"nice":false}},"text":{"field":"l"}}},
   {"data":{"name":"al"},"mark":{"type":"text","angle":315,"font":"DejaVu Sans Mono","fontSize":12,"color":"#333","baseline":"middle"},"encoding":{"x":{"field":"T","type":"quantitative","scale":{"type":"log","domain":[0.006316,10],"nice":false}},"y":{"field":"V","type":"quantitative","scale":{"type":"log","domain":[0.1,1000],"nice":false}},"text":{"field":"l"}}},
   {"data":{"values":[{"T":0.427,"V":1734,"l":"変位(cm)"}]},"mark":{"type":"text","angle":50,"fontSize":13,"color":"#333","baseline":"middle"},"encoding":{"x":{"field":"T","type":"quantitative","scale":{"type":"log","domain":[0.006316,10],"nice":false}},"y":{"field":"V","type":"quantitative","scale":{"type":"log","domain":[0.1,1000],"nice":false}},"text":{"field":"l"}}},
   {"data":{"values":[{"T":5.12,"V":2198,"l":"加速度(cm/s²)"}]},"mark":{"type":"text","angle":310,"fontSize":13,"color":"#333","baseline":"middle"},"encoding":{"x":{"field":"T","type":"quantitative","scale":{"type":"log","domain":[0.006316,10],"nice":false}},"y":{"field":"V","type":"quantitative","scale":{"type":"log","domain":[0.1,1000],"nice":false}},"text":{"field":"l"}}},
   {"data":{"values":[{"T":10,"V":1224,"l":"h=0.05"}]},"mark":{"type":"text","align":"right","font":"DejaVu Sans Mono","fontSize":13,"color":"#333","baseline":"middle"},"encoding":{"x":{"field":"T","type":"quantitative","scale":{"type":"log","domain":[0.006316,10],"nice":false}},"y":{"field":"V","type":"quantitative","scale":{"type":"log","domain":[0.1,1000],"nice":false}},"text":{"field":"l"}}},
   {"data":{"values":[{}]},"mark":{"type":"rect","fill":"white","stroke":"#222","strokeWidth":1.2},"encoding":{"x":{"datum":0.023,"type":"quantitative","scale":{"type":"log","domain":[0.006316,10],"nice":false}},"x2":{"datum":34},"y":{"datum":0.139,"type":"quantitative","scale":{"type":"log","domain":[0.1,1000],"nice":false}},"y2":{"datum":0.82}}},
   {"data":{"values":[{"V":0.568}]},"mark":{"type":"rule","color":"#000","strokeWidth":4.5},"encoding":{"x":{"datum":0.0322,"type":"quantitative","scale":{"type":"log","domain":[0.006316,10],"nice":false}},"x2":{"datum":0.0755},"y":{"field":"V","type":"quantitative","scale":{"type":"log","domain":[0.1,1000],"nice":false}}}},
   {"data":{"values":[{"s":"EGF","V":0.3376},{"s":"SGF","V":0.2085}]},"mark":{"type":"rule","strokeWidth":2.6},"encoding":{"x":{"datum":0.0322,"type":"quantitative","scale":{"type":"log","domain":[0.006316,10],"nice":false}},"x2":{"datum":0.0755},"y":{"field":"V","type":"quantitative","scale":{"type":"log","domain":[0.1,1000],"nice":false}},"color":{"field":"s","type":"nominal","scale":{"domain":["EGF","SGF"],"range":["#ff0000","#008000"]},"legend":null}}},
   {"data":{"values":[{"l":"基準地震動Ss-1","T":0.0948,"V":0.568},{"l":"経験的グリーン関数法(Ss-3","T":0.0948,"V":0.3376},{"l":")","T":19.77,"V":0.3376},{"l":"統計的グリーン関数法","T":0.0948,"V":0.2085}]},"mark":{"type":"text","fontSize":20,"color":"#111","baseline":"middle","align":"left"},"encoding":{"x":{"field":"T","type":"quantitative","scale":{"type":"log","domain":[0.006316,10],"nice":false}},"y":{"field":"V","type":"quantitative","scale":{"type":"log","domain":[0.1,1000],"nice":false}},"text":{"field":"l"}}},
   {"data":{"values":[{"l":"H","T":1.621,"V":0.506},{"l":"EW","T":13.85,"V":0.3007}]},"mark":{"type":"text","font":"DejaVu Sans Mono","fontSize":15,"color":"#111","baseline":"middle","align":"left"},"encoding":{"x":{"field":"T","type":"quantitative","scale":{"type":"log","domain":[0.006316,10],"nice":false}},"y":{"field":"V","type":"quantitative","scale":{"type":"log","domain":[0.1,1000],"nice":false}},"text":{"field":"l"}}}
  ]},
  {"width":384.7,"height":477.5,"layer":[
   {"data":{"name":"vg"},"mark":{"type":"rule","color":"#444","strokeWidth":1.3},"encoding":{"x":{"field":"T","type":"quantitative","scale":{"type":"log","domain":[0.006316,10],"nice":false},"axis":{"values":[0.01,0.02,0.05,0.1,0.2,0.5,1,2,5,10],"format":"~g","domain":false,"ticks":false,"labelPadding":8,"title":"周期(s)","titlePadding":21,"titleX":204}},"y":{"datum":0.1,"type":"quantitative","scale":{"type":"log","domain":[0.1,1000],"nice":false}},"y2":{"datum":1000}}},
   {"data":{"name":"hg"},"mark":{"type":"rule","color":"#444","strokeWidth":1.3},"encoding":{"x":{"datum":0.01,"type":"quantitative","scale":{"type":"log","domain":[0.006316,10],"nice":false}},"x2":{"datum":10},"y":{"field":"V","type":"quantitative","scale":{"type":"log","domain":[0.1,1000],"nice":false},"axis":{"values":[0.1,0.2,0.5,1,2,5,10,20,50,100,200,500,1000],"format":"~g","domain":false,"ticks":false,"offset":-24,"labelPadding":7,"title":"速度(cm/s)","titlePadding":11,"titleY":218}}}},
   {"data":{"name":"dg"},"mark":{"type":"rule","color":"#333","strokeWidth":0.8},"encoding":{"x":{"field":"t1","type":"quantitative","scale":{"type":"log","domain":[0.006316,10],"nice":false}},"x2":{"field":"t2"},"y":{"field":"v1","type":"quantitative","scale":{"type":"log","domain":[0.1,1000],"nice":false}},"y2":{"field":"v2"}}},
   {"data":{"name":"lt"},"mark":{"type":"rule","color":"#444","strokeWidth":1.2},"encoding":{"x":{"datum":0.01,"type":"quantitative","scale":{"type":"log","domain":[0.006316,10],"nice":false}},"x2":{"datum":0.01155},"y":{"field":"V","type":"quantitative","scale":{"type":"log","domain":[0.1,1000],"nice":false}}}},
   {"data":{"name":"bt"},"mark":{"type":"rule","color":"#444","strokeWidth":1.2},"encoding":{"x":{"field":"T","type":"quantitative","scale":{"type":"log","domain":[0.006316,10],"nice":false}},"y":{"datum":0.1,"type":"quantitative","scale":{"type":"log","domain":[0.1,1000],"nice":false}},"y2":{"datum":0.1156}}},
   {"data":{"name":"uS"},"mark":{"type":"line","color":"#000","strokeWidth":3},"encoding":{"x":{"field":"T","type":"quantitative","scale":{"type":"log","domain":[0.006316,10],"nice":false}},"y":{"field":"V","type":"quantitative","scale":{"type":"log","domain":[0.1,1000],"nice":false}}}},
   {"data":{"name":"uE"},"mark":{"type":"line","color":"#ff0000","strokeWidth":1.7},"encoding":{"x":{"field":"T","type":"quantitative","scale":{"type":"log","domain":[0.006316,10],"nice":false}},"y":{"field":"V","type":"quantitative","scale":{"type":"log","domain":[0.1,1000],"nice":false}}}},
   {"data":{"name":"uG"},"mark":{"type":"line","color":"#008000","strokeWidth":1.7},"encoding":{"x":{"field":"T","type":"quantitative","scale":{"type":"log","domain":[0.006316,10],"nice":false}},"y":{"field":"V","type":"quantitative","scale":{"type":"log","domain":[0.1,1000],"nice":false}}}},
   {"data":{"values":[{}]},"mark":{"type":"rect","fill":"white","stroke":"#000","strokeWidth":3},"encoding":{"x":{"datum":0.0178,"type":"quantitative","scale":{"type":"log","domain":[0.006316,10],"nice":false}},"x2":{"datum":0.174},"y":{"datum":255,"type":"quantitative","scale":{"type":"log","domain":[0.1,1000],"nice":false}},"y2":{"datum":595}}},
   {"data":{"values":[{"l":"鉛直方向"}]},"mark":{"type":"text","fontSize":23,"color":"#111","baseline":"middle"},"encoding":{"x":{"datum":0.0557,"type":"quantitative","scale":{"type":"log","domain":[0.006316,10],"nice":false}},"y":{"datum":378,"type":"quantitative","scale":{"type":"log","domain":[0.1,1000],"nice":false}},"text":{"field":"l"}}},
   {"data":{"name":"dl"},"mark":{"type":"text","angle":45,"font":"DejaVu Sans Mono","fontSize":12,"color":"#333","baseline":"middle"},"encoding":{"x":{"field":"T","type":"quantitative","scale":{"type":"log","domain":[0.006316,10],"nice":false}},"y":{"field":"V","type":"quantitative","scale":{"type":"log","domain":[0.1,1000],"nice":false}},"text":{"field":"l"}}},
   {"data":{"name":"al"},"mark":{"type":"text","angle":315,"font":"DejaVu Sans Mono","fontSize":12,"color":"#333","baseline":"middle"},"encoding":{"x":{"field":"T","type":"quantitative","scale":{"type":"log","domain":[0.006316,10],"nice":false}},"y":{"field":"V","type":"quantitative","scale":{"type":"log","domain":[0.1,1000],"nice":false}},"text":{"field":"l"}}},
   {"data":{"values":[{"T":0.427,"V":1734,"l":"変位(cm)"}]},"mark":{"type":"text","angle":50,"fontSize":13,"color":"#333","baseline":"middle"},"encoding":{"x":{"field":"T","type":"quantitative","scale":{"type":"log","domain":[0.006316,10],"nice":false}},"y":{"field":"V","type":"quantitative","scale":{"type":"log","domain":[0.1,1000],"nice":false}},"text":{"field":"l"}}},
   {"data":{"values":[{"T":5.12,"V":2198,"l":"加速度(cm/s²)"}]},"mark":{"type":"text","angle":310,"fontSize":13,"color":"#333","baseline":"middle"},"encoding":{"x":{"field":"T","type":"quantitative","scale":{"type":"log","domain":[0.006316,10],"nice":false}},"y":{"field":"V","type":"quantitative","scale":{"type":"log","domain":[0.1,1000],"nice":false}},"text":{"field":"l"}}},
   {"data":{"values":[{"T":10,"V":1224,"l":"h=0.05"}]},"mark":{"type":"text","align":"right","font":"DejaVu Sans Mono","fontSize":13,"color":"#333","baseline":"middle"},"encoding":{"x":{"field":"T","type":"quantitative","scale":{"type":"log","domain":[0.006316,10],"nice":false}},"y":{"field":"V","type":"quantitative","scale":{"type":"log","domain":[0.1,1000],"nice":false}},"text":{"field":"l"}}},
   {"data":{"values":[{}]},"mark":{"type":"rect","fill":"white","stroke":"#222","strokeWidth":1.2},"encoding":{"x":{"datum":0.0279,"type":"quantitative","scale":{"type":"log","domain":[0.006316,10],"nice":false}},"x2":{"datum":34.4},"y":{"datum":0.139,"type":"quantitative","scale":{"type":"log","domain":[0.1,1000],"nice":false}},"y2":{"datum":0.82}}},
   {"data":{"values":[{"V":0.568}]},"mark":{"type":"rule","color":"#000","strokeWidth":4.5},"encoding":{"x":{"datum":0.039,"type":"quantitative","scale":{"type":"log","domain":[0.006316,10],"nice":false}},"x2":{"datum":0.094},"y":{"field":"V","type":"quantitative","scale":{"type":"log","domain":[0.1,1000],"nice":false}}}},
   {"data":{"values":[{"s":"EGF","V":0.3376},{"s":"SGF","V":0.2085}]},"mark":{"type":"rule","strokeWidth":2.6},"encoding":{"x":{"datum":0.039,"type":"quantitative","scale":{"type":"log","domain":[0.006316,10],"nice":false}},"x2":{"datum":0.094},"y":{"field":"V","type":"quantitative","scale":{"type":"log","domain":[0.1,1000],"nice":false}},"color":{"field":"s","type":"nominal","scale":{"domain":["EGF","SGF"],"range":["#ff0000","#008000"]},"legend":null}}},
   {"data":{"values":[{"l":"基準地震動Ss-1","T":0.1183,"V":0.568},{"l":"経験的グリーン関数法(Ss-3","T":0.1183,"V":0.3376},{"l":")","T":24.7,"V":0.3376},{"l":"統計的グリーン関数法","T":0.1183,"V":0.2085}]},"mark":{"type":"text","fontSize":20,"color":"#111","baseline":"middle","align":"left"},"encoding":{"x":{"field":"T","type":"quantitative","scale":{"type":"log","domain":[0.006316,10],"nice":false}},"y":{"field":"V","type":"quantitative","scale":{"type":"log","domain":[0.1,1000],"nice":false}},"text":{"field":"l"}}},
   {"data":{"values":[{"l":"V","T":2.024,"V":0.506},{"l":"UD","T":17.3,"V":0.3007}]},"mark":{"type":"text","font":"DejaVu Sans Mono","fontSize":15,"color":"#111","baseline":"middle","align":"left"},"encoding":{"x":{"field":"T","type":"quantitative","scale":{"type":"log","domain":[0.006316,10],"nice":false}},"y":{"field":"V","type":"quantitative","scale":{"type":"log","domain":[0.1,1000],"nice":false}},"text":{"field":"l"}}}
  ]}
]
}
